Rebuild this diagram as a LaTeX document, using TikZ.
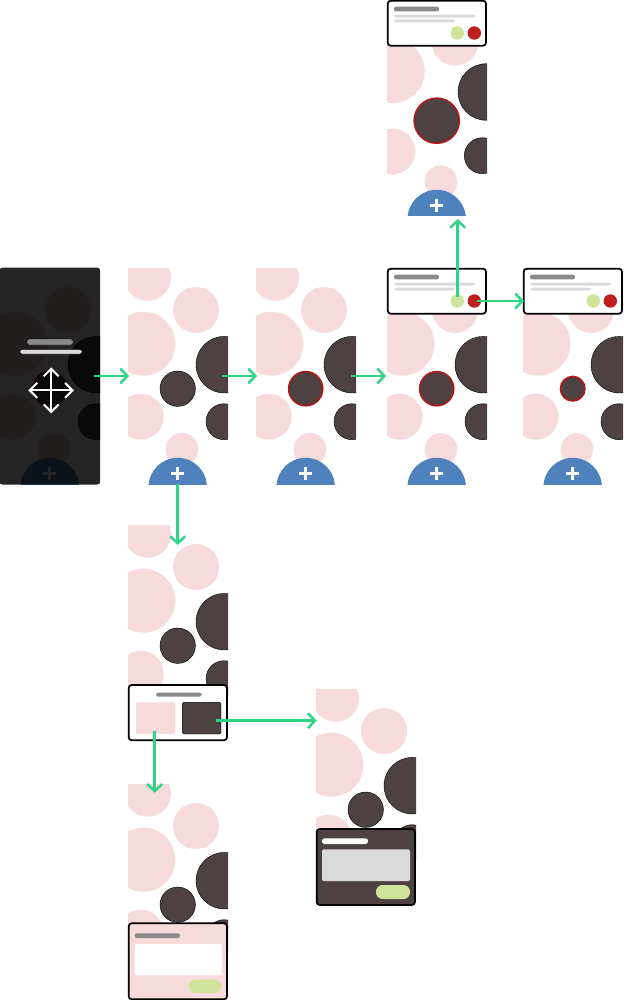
\documentclass[tikz,border=0pt]{standalone}
\usetikzlibrary{arrows.meta}

\definecolor{blush}{HTML}{F7DADB}
\definecolor{umber}{HTML}{4D4141}
\definecolor{fabblue}{HTML}{4F81BD}
\definecolor{flowgreen}{HTML}{2FD587}
\definecolor{okgreen}{HTML}{CFE49A}
\definecolor{alertred}{HTML}{BD1F1F}
\definecolor{barfill}{HTML}{8A8A8A}
\definecolor{linefill}{HTML}{DADADA}

\tikzset{
  flow/.style={line width=2.5pt,flowgreen,-{Straight Barb[length=7pt,width=15pt,line width=2.5pt]}},
  blushdot/.style={fill=blush},
  umberdot/.style={fill=umber,draw=black,line width=0.4pt},
  picked/.style={fill=umber,draw=alertred!90!black,line width=1.7pt},
  cardbox/.style={draw=black,line width=1.7pt,rounded corners=3pt},
  pill/.style={rounded corners=2pt},
  dotbtn/.style={circle,inner sep=0pt,minimum size=13.4pt},
}

% one screen: x, y, radius of the middle dark circle, its style, extra circle
\newcommand{\screenbg}[5]{%
  \begin{scope}[shift={(#1,#2)}]
    \clip (0,0) rectangle (100,216);
    #5
    \fill[blushdot] (68,42) circle (23);
    \fill[blushdot] (15.3,75.7) circle (32);
    \fill[blushdot] (12.7,148.7) circle (23);
    \fill[blushdot] (54,181.3) circle (16.3);
    \path[umberdot] (96.3,96.7) circle (28.3);
    \path[umberdot] (96,153.7) circle (18);
    \path[#4] (49.7,120.7) circle (#3);
  \end{scope}}
\newcommand{\capdot}{\fill[blushdot] (19.7,9.4) circle (23.3);}

% round add button at the foot of a screen
\newcommand{\fabbtn}[2]{%
  \begin{scope}[shift={(#1,#2)}]
    \begin{scope}
      \clip (0,0) rectangle (100,216);
      \fill[fabblue] (49.7,219) circle (29.2);
    \end{scope}
    \draw[white,line width=3pt] (43,205.3) -- (56.4,205.3);
    \draw[white,line width=3pt] (49.7,198.6) -- (49.7,212);
  \end{scope}}

% confirm card with two round buttons
\newcommand{\confirmcard}[3]{%
  \begin{scope}[shift={(#1,#2)}]
    \filldraw[cardbox,fill=white] (0.7,0.7) rectangle (99,45.7);
    \fill[barfill,pill] (7,6.7) rectangle (52,11.3);
    \fill[linefill,pill] (7,14.7) rectangle (88,17.7);
    \fill[linefill,pill] (7,19.5) rectangle (68,22.5);
    \node[dotbtn,fill=okgreen] (ok#3) at (70.3,33) {};
    \node[dotbtn,fill=alertred] (no#3) at (87.3,33) {};
  \end{scope}}

\begin{document}
\begin{tikzpicture}[x=1pt,y=-1pt]
  \useasboundingbox (0,0) rectangle (623,1000);

  % Dimmed first screen
  \screenbg{0}{268}{17}{picked}{}
  \fabbtn{0}{268}
  \fill[black,opacity=0.86,rounded corners=3pt] (-0.5,267.7) rectangle (100.2,484.6);
  \filldraw[barfill,draw=black,line width=0.4pt,pill] (27,339) rectangle (73,345);
  \filldraw[linefill,draw=black,line width=0.4pt,pill] (20,349.5) rectangle (82,354);
  \foreach \c/\w in {black/3.8pt,white/2.1pt}{
    \draw[\c,line width=\w,{Straight Barb[length=7.5pt,width=15pt]}-{Straight Barb[length=7.5pt,width=15pt]}] (28.3,390.3) -- (74,390.3);
    \draw[\c,line width=\w,{Straight Barb[length=7.5pt,width=15pt]}-{Straight Barb[length=7.5pt,width=15pt]}] (51.2,367.3) -- (51.2,413.3);
  }

  % Main row
  \screenbg{128}{268}{17.7}{umberdot}{\capdot}
  \fabbtn{128}{268}
  \screenbg{256}{268}{17}{picked}{\capdot}
  \fabbtn{256}{268}
  \screenbg{387}{268}{17}{picked}{\capdot}
  \fabbtn{387}{268}
  \confirmcard{387}{268}{a}
  \screenbg{523}{268}{12.2}{picked}{\capdot}
  \fabbtn{523}{268}
  \confirmcard{523}{268}{b}

  % Top screen
  \begin{scope}[shift={(387,0)}]
    \clip (0,0) rectangle (100,216);
    \fill[blushdot] (68,42.7) circle (23);
    \fill[blushdot] (5.7,71) circle (32);
    \fill[blushdot] (5.3,151.5) circle (23);
    \fill[blushdot] (54,181.7) circle (16.3);
    \path[umberdot] (99.3,92) circle (28.3);
    \path[umberdot] (95.3,155.7) circle (18);
    \path[picked] (49.7,120.7) circle (22.5);
  \end{scope}
  \fabbtn{387}{0}
  \confirmcard{387}{0}{c}

  % Screen with type choice
  \screenbg{128}{525}{17.7}{umberdot}{\capdot}
  \filldraw[cardbox,fill=white] (128.7,685) rectangle (227,740.3);
  \fill[barfill,pill] (156,692.7) rectangle (201.7,696.5);
  \fill[blush,rounded corners=1.5pt] (136,702.3) rectangle (175,734);
  \filldraw[umberdot,rounded corners=1.5pt] (182.3,702.3) rectangle (221,734);

  % Light form
  \screenbg{128}{784}{17.7}{umberdot}{\capdot}
  \filldraw[cardbox,fill=blush] (128.7,923.3) rectangle (227,999.3);
  \fill[barfill,pill] (134.7,933.3) rectangle (180,938);
  \fill[white,rounded corners=1.5pt] (134.7,944) rectangle (221.7,975.3);
  \fill[okgreen,rounded corners=6.5pt] (188.7,979.7) rectangle (221.3,993);

  % Dark form
  \screenbg{316}{689}{17.7}{umberdot}{\capdot}
  \filldraw[cardbox,fill=umber] (316.7,829) rectangle (415,905);
  \fill[white,rounded corners=2.5pt] (322,838.3) rectangle (368,844);
  \fill[linefill,rounded corners=1.5pt] (322,849.3) rectangle (410,881);
  \fill[okgreen,rounded corners=6.5pt] (376,885) rectangle (410,899);

  % Flow
  \coordinate (m0) at (94,376);
  \coordinate (m1) at (129,376);
  \coordinate (m2) at (222,376);
  \coordinate (m3) at (257,376);
  \coordinate (m4) at (351,376);
  \coordinate (m5) at (386,376);
  \coordinate (up0) at (457.7,297);
  \coordinate (up1) at (457.7,219);
  \coordinate (rt0) at (477,301);
  \coordinate (rt1) at (524,301);
  \coordinate (dn0) at (177.7,484);
  \coordinate (dn1) at (177.7,545);
  \coordinate (lt0) at (154.7,730.7);
  \coordinate (lt1) at (154.7,792.7);
  \coordinate (dk0) at (216,720.7);
  \coordinate (dk1) at (316.7,720.7);
  \draw[flow] (m0) -- (m1);
  \draw[flow] (m2) -- (m3);
  \draw[flow] (m4) -- (m5);
  \draw[flow] (up0) -- (up1);
  \draw[flow] (rt0) -- (rt1);
  \draw[flow] (dn0) -- (dn1);
  \draw[flow] (lt0) -- (lt1);
  \draw[flow] (dk0) -- (dk1);
\end{tikzpicture}
\end{document}
